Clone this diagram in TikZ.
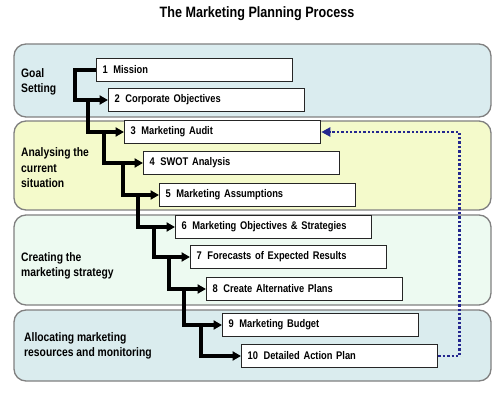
\documentclass[tikz,border=0pt]{standalone}
\usepackage{fontspec}
\usepackage{xcolor}
\usepackage{tikz}
\usetikzlibrary{positioning,arrows.meta,calc}
\newfontfamily\narrowsans[FakeStretch=0.84]{Liberation Sans}
\definecolor{goalfill}{HTML}{DAECEF}
\definecolor{auditfill}{HTML}{F4FACB}
\definecolor{stratfill}{HTML}{EDFAF1}
\definecolor{allocfill}{HTML}{DAECEE}
\definecolor{loopblue}{HTML}{24278F}
\tikzset{
  band/.style={
    draw=black!50,
    line width=1.3pt,
    rounded corners=12pt
  },
  bandlabel/.style={
    anchor=west,
    align=left,
    inner sep=0pt,
    font=\narrowsans\bfseries\fontsize{12.3}{15.5}\selectfont
  },
  stepbox/.style={
    draw=black!85,
    fill=white,
    line width=1.3pt,
    anchor=west,
    minimum width=196pt,
    minimum height=23pt,
    text width=184pt,
    inner xsep=6pt,
    align=left,
    font=\narrowsans\bfseries\fontsize{11.1}{12}\selectfont
  },
  flowline/.style={
    line width=3.2pt,
    line join=miter,
    -{Triangle[length=8.5pt,width=9pt]}
  },
  feedback/.style={
    loopblue,
    line width=2.6pt,
    dash pattern=on 2.4pt off 2pt,
    -{Triangle[length=9pt,width=9pt]}
  }
}
\begin{document}
\begin{tikzpicture}[x=1pt, y=-1pt]
    \useasboundingbox (0,0) rectangle (500,395);

    \node[font=\narrowsans\bfseries\fontsize{15}{16}\selectfont] (title) at (257,14) {The Marketing Planning Process};

    % stage bands
    \draw[band, fill=goalfill]  (14,44)  rectangle (491,117);
    \draw[band, fill=auditfill] (14,121) rectangle (491,210);
    \draw[band, fill=stratfill] (14,215) rectangle (491,305);
    \draw[band, fill=allocfill] (14,310) rectangle (491,381);

    \node[bandlabel] (goal)  at (21,82)  {Goal\\Setting};
    \node[bandlabel] (situ)  at (21,168) {Analysing the\\current\\situation};
    \node[bandlabel] (strat) at (21,266) {Creating the\\marketing strategy};
    \node[bandlabel] (alloc) at (24,346) {Allocating marketing\\resources and monitoring};

    % planning steps
    \node[stepbox] (mission)    at (96,70)   {1\, Mission};
    \node[stepbox] (corpobj)    at (108,100) {2\, Corporate Objectives};
    \node[stepbox] (audit)      at (124,132) {3\, Marketing Audit};
    \node[stepbox] (swot)       at (143,163) {4\, SWOT Analysis};
    \node[stepbox] (assume)     at (159,195) {5\, Marketing Assumptions};
    \node[stepbox] (objstrat)   at (175,227) {6\, Marketing Objectives \& Strategies};
    \node[stepbox] (forecast)   at (190,257) {7\, Forecasts of Expected Results};
    \node[stepbox] (altplans)   at (206,289) {8\, Create Alternative Plans};
    \node[stepbox] (budget)     at (222,325) {9\, Marketing Budget};
    \node[stepbox] (actionplan) at (241,356) {10\, Detailed Action Plan};

    \draw[flowline] (mission.west) -- ++(-21,0) |- (corpobj.west);
    \draw[flowline] ($(corpobj.west)+(-20,0)$) |- (audit.west);
    \draw[flowline] ($(audit.west)+(-20,0)$) |- (swot.west);
    \draw[flowline] ($(swot.west)+(-20,0)$) |- (assume.west);
    \draw[flowline] ($(assume.west)+(-21,0)$) |- (objstrat.west);
    \draw[flowline] ($(objstrat.west)+(-21,0)$) |- (forecast.west);
    \draw[flowline] ($(forecast.west)+(-21,0)$) |- (altplans.west);
    \draw[flowline] ($(altplans.west)+(-22,0)$) |- (budget.west);
    \draw[flowline] ($(budget.west)+(-21,0)$) |- (actionplan.west);

    \draw[feedback] (actionplan.east) -- ++(21,0) |- (audit.east);

\end{tikzpicture}
\end{document}
